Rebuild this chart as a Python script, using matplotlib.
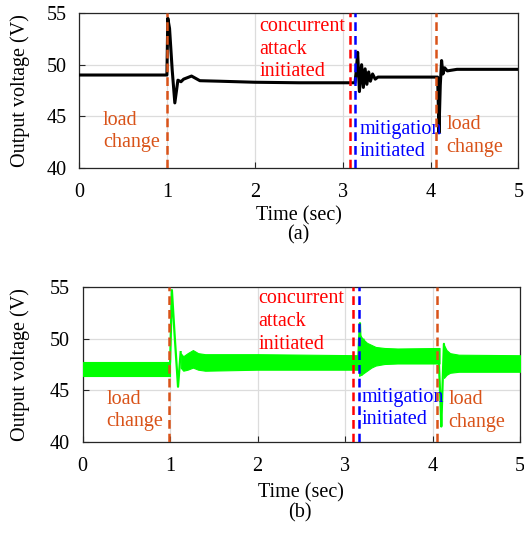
import matplotlib
matplotlib.use("Agg")
import matplotlib.pyplot as plt

plt.rcParams['font.family'] = ['Liberation Serif', 'DejaVu Serif']
plt.rcParams['font.size'] = 14.5

# (a) black trace
t_a = [0, 1.0, 1.01, 1.03, 1.06, 1.09, 1.125, 1.16, 1.19, 1.28, 1.375, 1.6, 2.0, 2.5, 3.14,
       3.155, 3.17, 3.19, 3.215, 3.235, 3.255, 3.275, 3.295, 3.315, 3.34, 3.37, 3.4,
       4.08, 4.095, 4.11, 4.125, 4.14, 4.16, 4.19, 4.3, 5.0]
v_a = [49.0, 49.0, 54.5, 53.5, 49.5, 46.3, 48.5, 48.35, 48.6, 48.9, 48.45, 48.4, 48.3, 48.25, 48.25,
       49.5, 51.2, 47.4, 50.0, 47.8, 49.6, 48.1, 49.3, 48.4, 49.1, 48.6, 48.8,
       48.8, 43.4, 48.0, 50.4, 49.1, 49.7, 49.4, 49.55, 49.55]

# (b) green ripple band (upper / lower envelopes)
band_t = [[0, 1.0],
          [1.12, 1.15, 1.2, 1.26, 1.32, 1.4, 2.0, 3.15],
          [3.16, 3.2, 3.25, 3.3, 3.35, 3.45, 3.6, 4.08],
          [4.13, 4.16, 4.2, 4.3, 5.0]]
band_hi = [[47.75, 47.75],
           [48.6, 48.3, 48.6, 48.9, 48.6, 48.5, 48.5, 48.4],
           [50.5, 50.0, 49.6, 49.4, 49.2, 49.1, 49.05, 49.1],
           [49.4, 48.9, 48.6, 48.45, 48.4]]
band_lo = [[46.35, 46.35],
           [47.2, 46.9, 47.0, 47.2, 47.0, 46.9, 47.0, 47.0],
           [46.4, 46.6, 46.9, 47.2, 47.4, 47.55, 47.6, 47.6],
           [46.2, 46.5, 46.7, 46.8, 46.8]]
# (b) transients
tr_t = [[0.99, 1.0, 1.02, 1.05, 1.09, 1.12],
        [3.15, 3.16, 3.17, 3.19, 3.21],
        [4.07, 4.09, 4.10, 4.12, 4.13, 4.15]]
tr_v = [[47.0, 47.8, 54.7, 50.5, 45.35, 48.7],
        [47.8, 50.0, 51.5, 46.5, 49.9],
        [48.2, 44.0, 41.5, 47.0, 49.5, 46.5]]

# event times
load_a = [1.0, 4.06]
attack_a, mitig_a = 3.08, 3.14
load_b = [0.99, 4.05]
attack_b, mitig_b = 3.09, 3.155

ORANGE = '#D95319'
DASH = (0, (3.5, 2))
LS = 1.26

fig = plt.figure(figsize=(5.24, 5.38), dpi=100)
ax1 = fig.add_axes([0.1508, 0.6877, 0.8387, 0.2881])
ax2 = fig.add_axes([0.1578, 0.1784, 0.8346, 0.2881])


def style(ax, lab_y):
    ax.set_xlim(0, 5)
    ax.set_ylim(40, 55)
    ax.set_xticks([0, 1, 2, 3, 4, 5])
    ax.set_yticks([40, 45, 50, 55])
    ax.grid(True, color='#dcdcdc', lw=0.9)
    ax.set_axisbelow(True)
    ax.tick_params(direction='in', length=4, width=0.8, color='#262626')
    ax.tick_params(axis='x', pad=10.5)
    ax.tick_params(axis='y', pad=9)
    for s in ax.spines.values():
        s.set_color('#262626')
        s.set_linewidth(0.9)
    ax.set_xlabel('Time (sec)')
    ax.xaxis.set_label_coords(0.5, lab_y)
    ax.set_ylabel('Output voltage (V)')


style(ax1, -0.245)
style(ax2, -0.265)
ax1.yaxis.set_label_coords(-0.112, 0.5)
ax2.yaxis.set_label_coords(-0.12, 0.5)

# (a)
ax1.plot(t_a, v_a, color='black', lw=2.2, zorder=3)
for x in load_a:
    ax1.axvline(x, color=ORANGE, lw=1.8, ls=DASH, zorder=4)
ax1.axvline(attack_a, color='red', lw=1.8, ls=DASH, zorder=4)
ax1.axvline(mitig_a, color='blue', lw=1.8, ls=DASH, zorder=4)

ax1.text(0.27, 43.55, 'load\nchange', color=ORANGE, va='center', ha='left', linespacing=LS)
ax1.text(2.05, 51.5, 'concurrent\nattack\ninitiated', color='red', va='center', ha='left', linespacing=LS)
ax1.text(3.19, 42.65, 'mitigation\ninitiated', color='blue', va='center', ha='left', linespacing=LS)
ax1.text(4.18, 43.1, 'load\nchange', color=ORANGE, va='center', ha='left', linespacing=LS)

# (b)
for t, hi, lo in zip(band_t, band_hi, band_lo):
    ax2.fill_between(t, lo, hi, color='#00ff00', lw=0.8, edgecolor='#00ff00', zorder=3)
for t, v in zip(tr_t, tr_v):
    ax2.plot(t, v, color='#00ff00', lw=1.6, zorder=3)
for x in load_b:
    ax2.axvline(x, color=ORANGE, lw=1.8, ls=DASH, zorder=4)
ax2.axvline(attack_b, color='red', lw=1.8, ls=DASH, zorder=4)
ax2.axvline(mitig_b, color='blue', lw=1.8, ls=DASH, zorder=4)

ax2.text(0.27, 43.05, 'load\nchange', color=ORANGE, va='center', ha='left', linespacing=LS)
ax2.text(2.01, 51.65, 'concurrent\nattack\ninitiated', color='red', va='center', ha='left', linespacing=LS)
ax2.text(3.19, 43.25, 'mitigation\ninitiated', color='blue', va='center', ha='left', linespacing=LS)
ax2.text(4.18, 43.0, 'load\nchange', color=ORANGE, va='center', ha='left', linespacing=LS)

fig.text(0.569, 0.564, '(a)', ha='center', va='center')
fig.text(0.572, 0.047, '(b)', ha='center', va='center')

fig.savefig('out.png', dpi=100)
